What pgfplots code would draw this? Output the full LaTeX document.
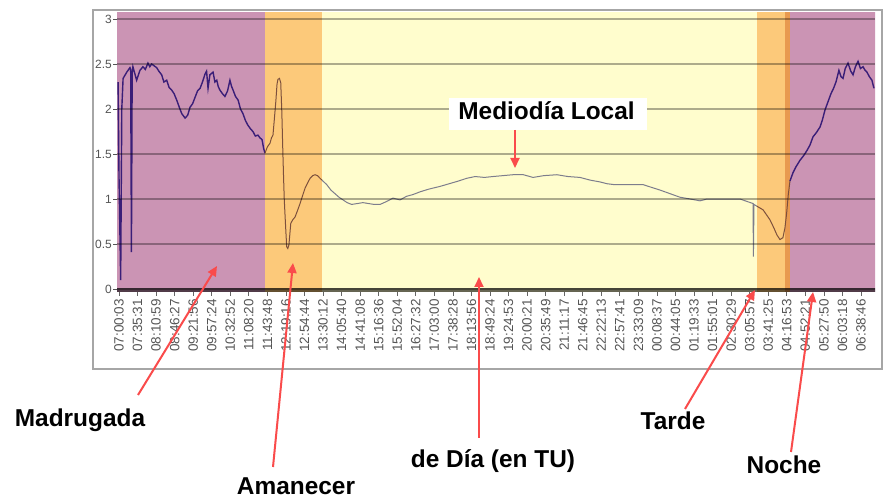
\documentclass[border=0pt]{standalone}
\usepackage{fontspec}
\setmainfont{Liberation Sans}
\usepackage{pgfplots}
\pgfplotsset{compat=1.18}
\usetikzlibrary{arrows.meta}
\definecolor{purp}{RGB}{203,148,180}
\definecolor{oran}{RGB}{252,201,122}
\definecolor{yell}{RGB}{255,253,205}
\definecolor{doran}{RGB}{232,154,80}
\definecolor{lindigo}{RGB}{58,30,120}
\definecolor{lbrown}{RGB}{125,80,60}
\definecolor{lgray}{RGB}{125,125,140}
\definecolor{tickgray}{RGB}{85,85,85}
\definecolor{arr}{RGB}{250,75,75}
\begin{document}
\begin{tikzpicture}
\path[use as bounding box] (0,0) rectangle (883bp,499bp);
\fill[white] (0,0) rectangle (883bp,499bp);
\begin{axis}[
  at={(117bp,207bp)}, anchor=south west,
  scale only axis, width=758bp, height=279bp,
  xmin=-0.108, xmax=40.755, ymin=-0.033, ymax=3.067,
  axis line style={draw=none},
  xtick pos=bottom, ytick pos=left,
  tick align=outside, major tick length=4bp,
  xtick={0,...,40},
  xticklabels={07:00:03,07:35:31,08:10:59,08:46:27,09:21:56,09:57:24,10:32:52,11:08:20,11:43:48,12:19:16,12:54:44,13:30:12,14:05:40,14:41:08,15:16:36,15:52:04,16:27:32,17:03:00,17:38:28,18:13:56,18:49:24,19:24:53,20:00:21,20:35:49,21:11:17,21:46:45,22:22:13,22:57:41,23:33:09,00:08:37,00:44:05,01:19:33,01:55:01,02:30:29,03:05:57,03:41:25,04:16:53,04:52:21,05:27:50,06:03:18,06:38:46},
  xticklabel style={rotate=90, anchor=east, inner sep=0pt, xshift=-3bp, font=\fontsize{13.5}{13.5}\selectfont, text=tickgray},
  ytick={0,0.5,1,1.5,2,2.5,3},
  yticklabels={0,0.5,1,1.5,2,2.5,3},
  yticklabel style={inner sep=0pt, anchor=east, xshift=-1bp, font=\fontsize{12}{12}\selectfont, text=tickgray},
  xtick style={black,opacity=0.6,line width=0.8bp},
  ytick style={tickgray,line width=0.8bp},
  ymajorgrids, grid style={black,opacity=0.32,line width=1.3bp},
  axis on top,
]
% background periods
\addplot[fill=purp, draw=none] coordinates {(-0.3,-0.2) (7.87,-0.2) (7.87,3.2) (-0.3,3.2)} -- cycle;
\addplot[fill=oran, draw=none] coordinates {(7.87,-0.2) (10.94,-0.2) (10.94,3.2) (7.87,3.2)} -- cycle;
\addplot[fill=yell, draw=none] coordinates {(10.94,-0.2) (34.39,-0.2) (34.39,3.2) (10.94,3.2)} -- cycle;
\addplot[fill=oran, draw=none] coordinates {(34.39,-0.2) (35.90,-0.2) (35.90,3.2) (34.39,3.2)} -- cycle;
\addplot[fill=doran, draw=none] coordinates {(35.90,-0.2) (36.17,-0.2) (36.17,3.2) (35.90,3.2)} -- cycle;
\addplot[fill=purp, draw=none] coordinates {(36.17,-0.2) (41,-0.2) (41,3.2) (36.17,3.2)} -- cycle;
% zero band
\addplot[black, opacity=0.6, line width=4bp] coordinates {(-0.3,-0.012) (41,-0.012)};
% night (madrugada)
\addplot[lindigo, line width=1.4bp] coordinates {
(-0.05,2.30) (0.00,1.25) (0.09,0.10) (0.15,2.00) (0.22,2.34) (0.42,2.41) (0.59,2.46) (0.63,2.44) (0.67,0.41) (0.71,2.40) (0.75,2.47) (0.95,2.32) (1.13,2.43) (1.29,2.47) (1.42,2.44) (1.56,2.51) (1.66,2.47) (1.76,2.50) (2.03,2.46) (2.15,2.42) (2.30,2.38) (2.42,2.30) (2.57,2.32) (2.70,2.24) (2.84,2.21) (2.97,2.17) (3.11,2.10) (3.25,2.02) (3.38,1.95) (3.56,1.90) (3.70,1.93) (3.83,2.02) (3.97,2.06) (4.10,2.13) (4.23,2.20) (4.37,2.23) (4.50,2.30) (4.64,2.39) (4.72,2.42) (4.80,2.23) (4.90,2.38) (5.07,2.41) (5.17,2.30) (5.27,2.32) (5.35,2.25) (5.44,2.21) (5.58,2.17) (5.71,2.14) (5.85,2.20) (5.98,2.32) (6.07,2.25) (6.15,2.21) (6.28,2.14) (6.42,2.10) (6.55,2.00) (6.68,1.95) (6.82,1.87) (6.95,1.82) (7.09,1.78) (7.22,1.75) (7.35,1.70) (7.49,1.71) (7.60,1.68) (7.71,1.66) (7.80,1.56) (7.87,1.51)};
% dawn (amanecer)
\addplot[lbrown, line width=1bp] coordinates {
(7.87,1.51) (8.00,1.58) (8.14,1.62) (8.22,1.68) (8.30,1.71) (8.38,1.90) (8.46,2.10) (8.52,2.28) (8.57,2.33) (8.65,2.34) (8.72,2.29) (8.78,1.95) (8.82,1.62) (8.87,1.25) (8.91,0.99) (8.98,0.70) (9.04,0.47) (9.10,0.45) (9.16,0.49) (9.26,0.73) (9.37,0.77) (9.49,0.80) (9.62,0.87) (9.76,0.95) (9.90,1.04) (10.03,1.12) (10.17,1.18) (10.30,1.23) (10.44,1.26) (10.57,1.27) (10.70,1.26) (10.84,1.23) (10.94,1.21)};
% day
\addplot[lgray, line width=1bp] coordinates {
(10.94,1.21) (11.20,1.16) (11.42,1.10) (11.64,1.06) (11.86,1.02) (12.08,0.99) (12.30,0.96) (12.54,0.94) (12.85,0.95) (13.15,0.96) (13.45,0.95) (13.75,0.94) (14.07,0.94) (14.40,0.97) (14.77,1.01) (15.15,0.99) (15.50,1.03) (15.85,1.05) (16.23,1.08) (16.70,1.11) (17.30,1.14) (17.80,1.17) (18.30,1.20) (18.74,1.23) (19.20,1.25) (19.70,1.24) (20.16,1.25) (20.70,1.26) (21.24,1.27) (21.80,1.27) (22.32,1.24) (22.90,1.26) (23.61,1.27) (24.20,1.25) (24.85,1.24) (25.40,1.21) (25.93,1.19) (26.31,1.17) (26.70,1.16) (27.01,1.16) (27.60,1.16) (28.25,1.16) (28.70,1.13) (29.16,1.10) (29.70,1.06) (30.24,1.02) (30.80,1.00) (31.32,0.98) (31.70,1.00) (32.02,1.00) (32.80,1.00) (33.48,1.00) (33.90,0.97) (34.18,0.95) (34.20,0.36) (34.23,0.94) (34.39,0.92)};
% dusk (tarde)
\addplot[lbrown, line width=1bp] coordinates {
(34.39,0.92) (34.72,0.88) (35.09,0.77) (35.30,0.68) (35.47,0.60) (35.63,0.55) (35.79,0.57) (35.90,0.68) (35.99,0.84) (36.08,1.05) (36.17,1.20)};
% night (noche)
\addplot[lindigo, line width=1.4bp] coordinates {
(36.17,1.20) (36.33,1.29) (36.50,1.36) (36.71,1.43) (36.90,1.48) (37.09,1.54) (37.25,1.60) (37.41,1.69) (37.60,1.74) (37.79,1.80) (37.92,1.88) (38.06,1.99) (38.22,2.08) (38.38,2.17) (38.52,2.23) (38.65,2.30) (38.81,2.43) (38.92,2.36) (39.03,2.34) (39.15,2.45) (39.30,2.51) (39.45,2.42) (39.57,2.38) (39.70,2.47) (39.84,2.53) (39.97,2.45) (40.11,2.47) (40.22,2.43) (40.32,2.41) (40.45,2.36) (40.59,2.32) (40.70,2.23)};
\end{axis}
% outer frame
\draw[gray!70, line width=1.5bp] (93bp,489bp) rectangle (882bp,130bp);
% annotations
\fill[white] (449bp,369bp) rectangle (647bp,401bp);
\begin{scope}[font=\fontsize{24.5}{28}\selectfont\bfseries]
\node[anchor=base, inner sep=0pt] at (80bp,72bp) {Madrugada};
\node[anchor=base, inner sep=0pt] at (296bp,4.5bp) {Amanecer};
\node[anchor=base, inner sep=0pt] at (493bp,32bp) {de Día (en TU)};
\node[anchor=base, inner sep=0pt] at (673bp,69.7bp) {Tarde};
\node[anchor=base, inner sep=0pt] at (784bp,26bp) {Noche};
\node[anchor=base, inner sep=0pt] at (546.5bp,379bp) {Mediodía Local};
\end{scope}
\begin{scope}[arr, line width=2bp, -{Triangle[length=10bp,width=9bp]}]
\draw (138bp,104bp) -- (217bp,233bp);
\draw (273bp,32bp) -- (293bp,236bp);
\draw (479bp,61bp) -- (479bp,222bp);
\draw (685bp,90bp) -- (755bp,209bp);
\draw (791bp,47bp) -- (813bp,207bp);
\draw (515bp,369bp) -- (515bp,331bp);
\end{scope}
\end{tikzpicture}
\end{document}
